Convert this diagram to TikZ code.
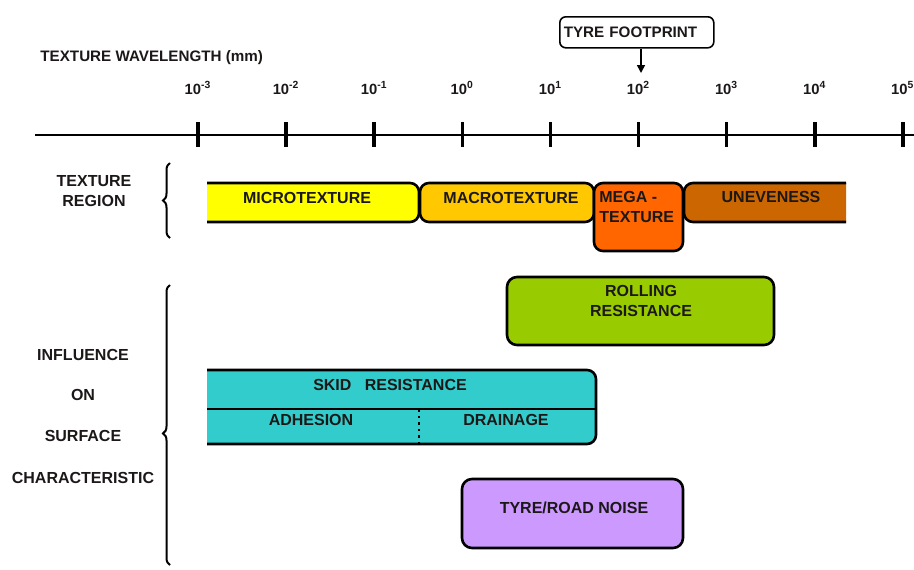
\documentclass[tikz,border=0pt]{standalone}
\usepackage{fontspec}
\setmainfont{Liberation Sans}
\usetikzlibrary{calc,positioning,arrows.meta,decorations.pathreplacing}
\definecolor{CTX}{RGB}{28,24,24}
\definecolor{CMIC}{RGB}{255,255,0}
\definecolor{CMAC}{RGB}{255,200,0}
\definecolor{CMEG}{RGB}{255,102,0}
\definecolor{CUNE}{RGB}{204,102,0}
\definecolor{CROL}{RGB}{153,204,0}
\definecolor{CSKD}{RGB}{51,204,204}
\definecolor{CNOI}{RGB}{204,153,255}

\begin{document}
\begin{tikzpicture}[x=0.5pt,y=-0.5pt,text=CTX,
  every node/.style={inner sep=0pt},
  font=\bfseries\fontsize{8pt}{10pt}\selectfont,
  regbar/.style={draw=black,line width=1.3pt,rounded corners=4.5pt},
  lbrace/.style={decorate,decoration={brace,amplitude=3.5pt},line width=1pt}]
  \useasboundingbox (0,0) rectangle (914,569);
  % --- wavelength axis
  \node[font=\bfseries\fontsize{7.6pt}{9pt}\selectfont,anchor=west] (axtitle) at (40,58) {TEXTURE WAVELENGTH (mm)};
  \draw[line width=1.3pt] (35,135) -- (914,135);
  \foreach \e [count=\i from 0] in {-3,-2,-1,0,1,2,3,4,5} {
    \draw[line width=1.8pt] ({198+88.1*\i},122) -- ({198+88.1*\i},147);
    \node[font=\bfseries\fontsize{7.4pt}{9pt}\selectfont] (lab\i) at ({198+88.1*\i},88) {10\textsuperscript{\e}};
  }
  \node[draw=black,line width=0.8pt,rounded corners=3pt,fill=white,anchor=north west,
    text width=73pt,inner xsep=2pt,minimum height=15.5pt,
    font=\bfseries\fontsize{7.6pt}{9pt}\selectfont] (foot) at (559,16) {TYRE FOOTPRINT};
  \coordinate (fptip) at (641,73);
  \draw[line width=0.8pt,-{Triangle[length=4pt,width=4pt]}] (foot.south -| fptip) -- (fptip);
  % --- texture region
  \node[align=center] (region) at (94,191) {TEXTURE\\REGION};
  \draw[lbrace] (170,238) -- (170,163);
  \filldraw[regbar,fill=CMIC] (207,183) -- (419,183) -- (419,222) -- (207,222);
  \filldraw[regbar,fill=CMAC] (420,183) rectangle (594,222);
  \filldraw[regbar,fill=CMEG] (594,183) rectangle (683,251);
  \filldraw[regbar,fill=CUNE] (846,183) -- (684,183) -- (684,222) -- (846,222);
  \node (micro) at (307,198) {MICROTEXTURE};
  \node (macro) at (511,198) {MACROTEXTURE};
  \node[align=left,anchor=west] (mega) at (599,207) {MEGA -\\TEXTURE};
  \node (unev) at (771,197) {UNEVENESS};
  % --- influence on surface characteristic
  \foreach \t/\y in {INFLUENCE/355,ON/395,SURFACE/436,CHARACTERISTIC/478}
    \node (infl\y) at (83,\y) {\t};
  \draw[lbrace,decoration={aspect=0.47}] (170,565) -- (170,285);
  \filldraw[regbar,fill=CROL,rounded corners=5pt] (507,277) rectangle (774,345);
  \node[align=center] (roll) at (641,301) {ROLLING\\RESISTANCE};
  \filldraw[regbar,fill=CSKD] (207,370) -- (596,370) -- (596,444) -- (207,444);
  \draw[line width=0.8pt] (207,409) -- (596,409);
  \draw[line width=1.3pt,dotted] (419,409) -- (419,446);
  \node (skid) at (390,385) {SKID\ \ \ RESISTANCE};
  \node (adh) at (311,420) {ADHESION};
  \node (drain) at (506,420) {DRAINAGE};
  \filldraw[regbar,fill=CNOI,rounded corners=5pt] (462,479) rectangle (683,548);
  \node (noise) at (574,508) {TYRE/ROAD NOISE};
\end{tikzpicture}
\end{document}
